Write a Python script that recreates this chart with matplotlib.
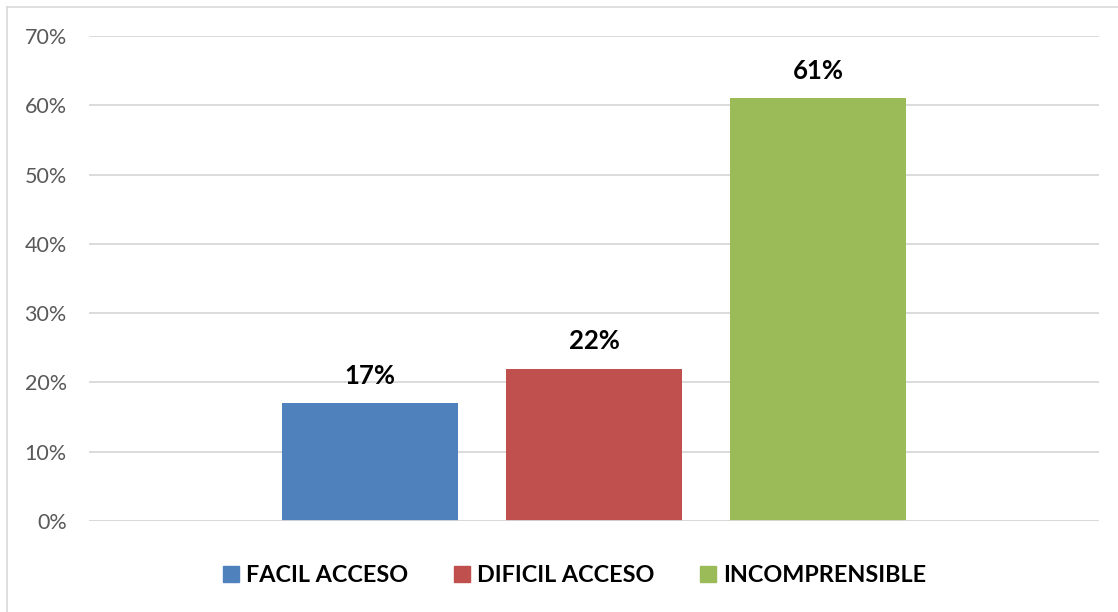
import numpy as np
import matplotlib.pyplot as plt
from matplotlib.lines import Line2D

plt.rcParams['font.family'] = ['Lato', 'DejaVu Sans']

series = ['FACIL ACCESO', 'DIFICIL ACCESO', 'INCOMPRENSIBLE']
values = [0.17, 0.22, 0.61]
colors = ['#4F81BD', '#C0504D', '#9BBB59']
yticks = [0, 0.1, 0.2, 0.3, 0.4, 0.5, 0.6, 0.7]

fig = plt.figure(figsize=(11.18, 6.12), dpi=100)
ax = fig.add_axes([89/1118, 1 - 521/612, (1099 - 89)/1118, (521 - 36)/612])

width = 0.174
step = 0.222
for i in range(len(series)):
    x = (i - (len(series) - 1) / 2) * step
    ax.bar(x, values[i], width, color=colors[i], label=series[i], zorder=3)
    ax.annotate('%d%%' % round(values[i] * 100), (x, values[i]),
                xytext=(0, 11), textcoords='offset points',
                ha='center', va='bottom', fontsize=18.5, fontweight='bold',
                color='black')

ax.set_xlim(-0.5, 0.5)
ax.set_ylim(0, 0.7)
ax.set_yticks(yticks)
ax.set_yticklabels(['%d%%' % round(t * 100) for t in yticks])
ax.tick_params(axis='y', length=0, pad=16, labelsize=15.5, labelcolor='#595959')
ax.set_xticks([])
ax.grid(axis='y', color='#D9D9D9', linewidth=1.3, zorder=0)
for s in ax.spines.values():
    s.set_visible(False)
ax.axhline(0, color='#D9D9D9', linewidth=1.3, zorder=4)

handles = [Line2D([], [], marker='s', linestyle='none', markersize=11.5,
                  markerfacecolor=c, markeredgecolor=c) for c in colors]
leg = fig.legend(handles, series, loc='center', bbox_to_anchor=(574/1118, 1 - 576/612),
                 ncol=3, frameon=False, handletextpad=0.25, columnspacing=1.9,
                 prop={'weight': 'bold', 'size': 16.8}, handlelength=0.8)

# borde del grafico
fig.add_artist(Line2D([7/1118, 7/1118], [0, 1 - 7/612], color='#D9D9D9', linewidth=1.2))
fig.add_artist(Line2D([7/1118, 1], [1 - 7/612, 1 - 7/612], color='#D9D9D9', linewidth=1.2))

fig.savefig('out.png', dpi=100)
